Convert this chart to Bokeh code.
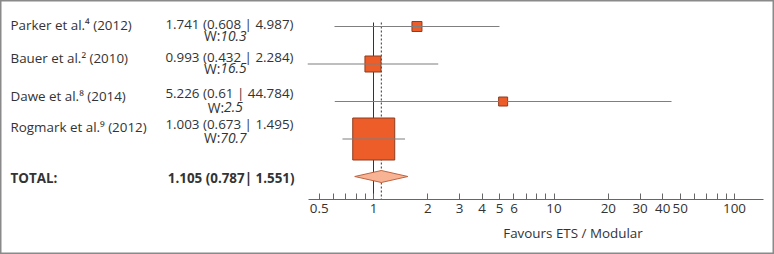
from bokeh.plotting import figure
from bokeh.models import Range1d, LogAxis, FixedTicker, ColumnDataSource
from bokeh.core.properties import value
from bokeh.embed import file_html
from bokeh.resources import INLINE

# ---------------- data ----------------
studies = ["Parker et al.\u2074 (2012)", "Bauer et al.\u00b2 (2010)",
           "Dawe et al.\u2078 (2014)", "Rogmark et al.\u2079 (2012)"]
odds = [1.741, 0.993, 5.226, 1.003]
lower = [0.608, 0.432, 0.61, 0.673]
upper = [4.987, 2.284, 44.784, 1.495]
weights = ["10.3", "16.5", "2.5", "70.7"]
total_label = "TOTAL:"
total_or = 1.105
total_lo = 0.787
total_hi = 1.551
null_value = 1
tick_values = [0.5, 0.6, 0.7, 0.8, 0.9, 1, 2, 3, 4, 5, 6, 7, 8, 9, 10,
               20, 30, 40, 50, 60, 70, 80, 90, 100]
tick_labels = ["0.5", "", "", "", "", "1", "2", "3", "4", "5", "6", "", "", "", "10",
               "20", "30", "40", "50", "", "", "", "", "100"]
axis_title = "Favours ETS / Modular"

# ---------------- layout / style ----------------
W, H = 774, 254
X0, DEC = 373.0, 180.5          # pixel of value 1, pixels per decade
Y0, ROW = 26.0, 37.5            # pixel of first row, pixels per row
x_start = 10 ** (-X0 / DEC)
x_end = 10 ** ((W - X0) / DEC)
y_top = -Y0 / ROW
y_bot = (H - Y0) / ROW
axis_y = (198.5 - Y0) / ROW
axis_bounds = (10 ** ((308 - X0) / DEC), 10 ** ((763 - X0) / DEC))
vline_top = (22 - Y0) / ROW

FONT = "Open Sans"
FS = "13.4px"
WFS = "13.8px"
TXT = "#333333"
SQ_FILL = "#EC5D2A"
SQ_LINE = "#8E3D1F"
CI_COL = "#7f7f7f"
sq_sizes = [10, 16, 9, 42]
SHIFT = -5
lab_off = [v + SHIFT for v in [3.3, -1.5, -0.5, -7.5]]
val_off = [v + SHIFT for v in [2.3, -2.5, -3.5, -10]]
w_off = [v + SHIFT for v in [14, 9.2, 10.5, 3.5]]
tot_off = 6 + SHIFT

rows = list(range(len(studies)))
total_row = len(studies)

p = figure(width=W, height=H, x_axis_type="log",
           x_range=Range1d(x_start, x_end), y_range=Range1d(y_bot, y_top),
           output_backend="svg", toolbar_location=None, min_border=0,
           x_axis_location=None, y_axis_location=None)
p.grid.visible = False
p.outline_line_color = "#8a8a8a"
p.outline_line_width = 2
p.background_fill_color = "white"
p.border_fill_color = "white"

# reference lines
p.segment(x0=[null_value], x1=[null_value], y0=[vline_top], y1=[axis_y],
          line_color="#333333", line_width=1)
p.segment(x0=[total_or], x1=[total_or], y0=[vline_top], y1=[axis_y],
          line_color="#333333", line_width=1, line_dash="2 2")

w_center = 227
w_split = [w_center + (16 - 7.6 * len(wv)) / 2 for wv in weights]

src = ColumnDataSource(dict(study=studies, odds=odds, lo=lower, hi=upper, row=rows,
                            size=sq_sizes,
                            val=[f"{o} ({l} | {h})" for o, l, h in zip(odds, lower, upper)],
                            w=weights, pre=["W:"] * len(rows),
                            lab_off=lab_off, val_off=val_off, w_off=w_off,
                            xo=w_split, x=[x_start] * len(rows)))

p.scatter(x="odds", y="row", size="size", marker="square", source=src,
          fill_color=SQ_FILL, line_color=SQ_LINE, line_width=1)
p.segment(x0="lo", x1="hi", y0="row", y1="row", source=src,
          line_color=CI_COL, line_width=1.2)

# pooled diamond
h = 6 / ROW
p.patch(x=[total_lo, total_or, total_hi, total_or],
        y=[total_row, total_row - h, total_row, total_row + h],
        fill_color="#F8B394", line_color="#C0643F", line_width=1)

# texts
p.text(x="x", y="row", text="study", source=src,
       x_offset=10, y_offset="lab_off", text_align="left", text_baseline="alphabetic",
       text_font=value(FONT), text_font_size=FS, text_color=TXT)
p.text(x="x", y="row", text="val", source=src,
       x_offset=293, y_offset="val_off", text_align="right", text_baseline="alphabetic",
       text_font=value(FONT), text_font_size=FS, text_color=TXT)
p.text(x="x", y="row", text="pre", source=src, x_offset="xo", y_offset="w_off",
       text_align="right", text_baseline="alphabetic",
       text_font=value(FONT), text_font_size=WFS, text_color=TXT)
p.text(x="x", y="row", text="w", source=src, x_offset="xo", y_offset="w_off",
       text_align="left", text_baseline="alphabetic", text_font_style="italic",
       text_font=value(FONT), text_font_size=WFS, text_color=TXT)

p.text(x=[x_start], y=[total_row], text=[total_label], x_offset=10, y_offset=tot_off,
       text_align="left", text_baseline="alphabetic", text_font_style="bold",
       text_font=value(FONT), text_font_size=FS, text_color=TXT)
p.text(x=[x_start], y=[total_row], text=[f"{total_or} ({total_lo}| {total_hi})"],
       x_offset=294, y_offset=tot_off,
       text_align="right", text_baseline="alphabetic", text_font_style="bold",
       text_font=value(FONT), text_font_size=FS, text_color=TXT)

# axis
axis = LogAxis(fixed_location=axis_y, bounds=axis_bounds,
               ticker=FixedTicker(ticks=tick_values),
               major_label_overrides={t: l for t, l in zip(tick_values, tick_labels)})
axis.axis_line_color = "#666666"
axis.major_tick_line_color = "#666666"
axis.major_tick_in = 6
axis.major_tick_out = 0
axis.minor_tick_line_color = None
axis.major_label_standoff = 5
axis.major_label_text_font = FONT
axis.major_label_text_font_size = FS
axis.major_label_text_color = TXT
p.add_layout(axis, "below")

title_x = 10 ** ((572.5 - X0) / DEC)
p.text(x=[title_x], y=[axis_y], text=[axis_title], y_offset=39.8 + SHIFT - 1,
       text_align="center", text_baseline="alphabetic",
       text_font=value(FONT), text_font_size=FS, text_color=TXT)

open("out.html", "w").write(file_html(p, INLINE))
